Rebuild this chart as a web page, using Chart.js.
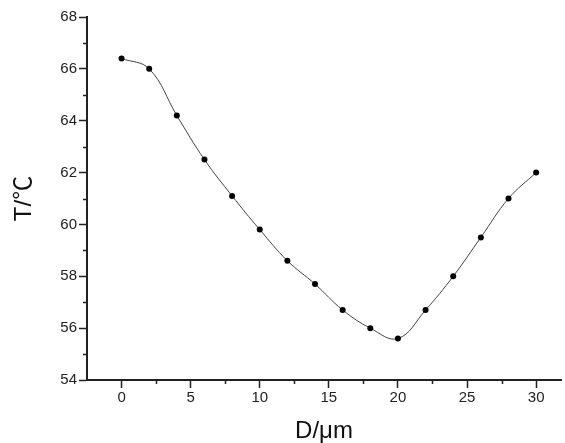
<!DOCTYPE html>
<html lang="zh">
<head>
  <meta charset="UTF-8">
  <title>T vs D</title>
  <script src="https://cdn.jsdelivr.net/npm/chart.js"></script>
  <style>
    body { margin: 0; background: #fff; }
    #wrap { width: 565px; height: 443px; position: relative; }
  </style>
</head>
<body>
  <div id="wrap"><canvas id="tChart"></canvas></div>

  <script>
    // datos
    const dValues = [0, 2, 4, 6, 8, 10, 12, 14, 16, 18, 20, 22, 24, 26, 28, 30];
    const tValues = [66.4, 66.0, 64.2, 62.5, 61.1, 59.8, 58.6, 57.7, 56.7, 56.0, 55.6, 56.7, 58.0, 59.5, 61.0, 62.0];
    const xTicks = [0, 5, 10, 15, 20, 25, 30];
    const yTicks = [54, 56, 58, 60, 62, 64, 66, 68];
    const xMinor = [-2.5, 2.5, 7.5, 12.5, 17.5, 22.5, 27.5];
    const yMinor = [55, 57, 59, 61, 63, 65, 67];

    const axisColor = '#222';

    // ticks menores (Origin style)
    const minorTicks = {
      id: 'minorTicks',
      afterDraw(chart) {
        const ctx = chart.ctx;
        const x = chart.scales.x, y = chart.scales.y;
        ctx.save();
        ctx.strokeStyle = axisColor;
        ctx.lineWidth = 1.5;
        ctx.beginPath();
        yMinor.forEach(v => {
          const py = Math.round(y.getPixelForValue(v)) + 0.5;
          ctx.moveTo(x.left - 4, py);
          ctx.lineTo(x.left, py);
        });
        xMinor.forEach(v => {
          if (v <= x.min) return;
          const px = Math.round(x.getPixelForValue(v)) + 0.5;
          ctx.moveTo(px, y.bottom);
          ctx.lineTo(px, y.bottom + 4);
        });
        ctx.stroke();
        ctx.restore();
      }
    };

    new Chart(document.getElementById('tChart'), {
      type: 'line',
      data: {
        datasets: [{
          data: dValues.map((d, i) => ({ x: d, y: tValues[i] })),
          borderColor: '#444',
          borderWidth: 1,
          tension: 0.4,
          pointRadius: 3,
          pointBackgroundColor: '#000',
          pointBorderColor: '#000',
          pointBorderWidth: 0
        }]
      },
      options: {
        responsive: true,
        maintainAspectRatio: false,
        animation: false,
        layout: { padding: { top: 17, right: 0, left: 0, bottom: 0 } },
        plugins: { legend: { display: false }, tooltip: { enabled: false } },
        scales: {
          x: {
            type: 'linear',
            min: -2.5,
            max: 31.8,
            afterBuildTicks: s => { s.ticks = xTicks.map(v => ({ value: v })); },
            afterFit: s => { s.height = 63; },
            border: { color: axisColor, width: 2 },
            grid: { drawOnChartArea: false, color: axisColor, tickLength: 8, tickWidth: 1.5 },
            ticks: { color: '#222', font: { family: 'Liberation Sans, Arial', size: 15 }, padding: 1 },
            title: { display: true, text: 'D/μm', color: '#111', font: { family: 'Liberation Sans, Arial', size: 24, lineHeight: 1 }, padding: 0 }
          },
          y: {
            min: 54,
            max: 68,
            afterBuildTicks: s => { s.ticks = yTicks.map(v => ({ value: v })); },
            afterFit: s => { s.width = 87; },
            border: { color: axisColor, width: 2 },
            grid: { drawOnChartArea: false, color: axisColor, tickLength: 8, tickWidth: 1.5 },
            ticks: { color: '#222', font: { family: 'Liberation Sans, Arial', size: 15 }, padding: 2 },
            title: { display: true, text: 'T/℃', color: '#111', font: { family: 'Liberation Sans, Noto Sans CJK SC', size: 24 }, padding: { top: 10, bottom: 0 } }
          }
        }
      },
      plugins: [minorTicks]
    });
  </script>
</body>
</html>
